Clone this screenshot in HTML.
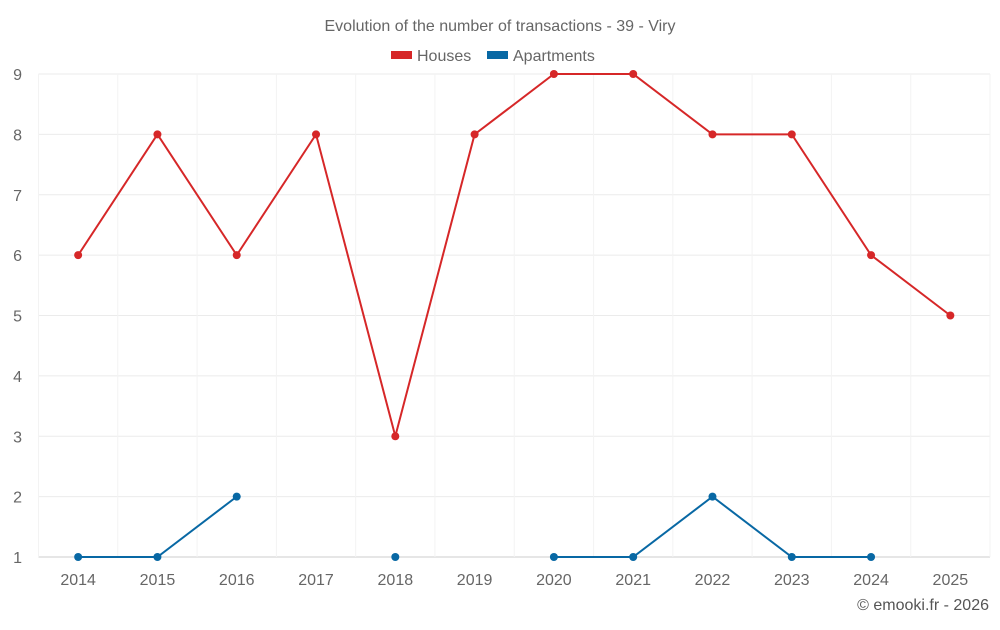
<!DOCTYPE html>
<html><head><meta charset="utf-8"><style>
body{margin:0;background:#fff;width:1000px;height:625px;overflow:hidden;font-family:"Liberation Sans",sans-serif}
svg text{font-family:"Liberation Sans",sans-serif}
</style></head><body>
<svg id="chart" width="1000" height="625" xmlns="http://www.w3.org/2000/svg">
<text x="500" y="31" text-anchor="middle" font-size="16" fill="#666">Evolution of the number of transactions - 39 - Viry</text>
<g>
<g><rect x="391" y="51" width="21" height="8" fill="#d62728"/><text x="417" y="61" font-size="16" fill="#666">Houses</text></g>
<g><rect x="487" y="51" width="21" height="8" fill="#0868a4"/><text x="513" y="61" font-size="16" fill="#666">Apartments</text></g>
</g>
<g id="grid"></g><g id="axes"></g><g id="series"></g>
<text x="989" y="610" text-anchor="end" font-size="16" fill="#555">© emooki.fr - 2026</text>
</svg>
<script>
const categories=["2014","2015","2016","2017","2018","2019","2020","2021","2022","2023","2024","2025"];
const houses=[6,8,6,8,3,8,9,9,8,8,6,5];
const apartments=[1,1,2,null,1,null,1,1,2,1,1,null];
const yTicks=[1,2,3,4,5,6,7,8,9];
const L=38.5,R=990,T=74,B=557,yMin=1,yMax=9;
const bw=(R-L)/categories.length;
const x=i=>L+bw*(i+0.5);
const y=v=>B-(v-yMin)/(yMax-yMin)*(B-T);
const NS="http://www.w3.org/2000/svg";
function mk(tag,attrs,parent){const e=document.createElementNS(NS,tag);for(const k in attrs)e.setAttribute(k,attrs[k]);parent.appendChild(e);return e;}
const grid=document.getElementById('grid'),axes=document.getElementById('axes'),series=document.getElementById('series');
yTicks.forEach(t=>{
 const l=mk('line',{x1:L,x2:R,y1:y(t),y2:y(t),stroke:t===yMin?'#ccc':'#ebebeb','stroke-width':1},grid);
 
 
 const tx=mk('text',{x:22,y:y(t)+6,'text-anchor':'end','font-size':16,fill:'#666'},axes);
 tx.textContent=t;
 
 
});
for(let i=0;i<=categories.length;i++){
 const l=mk('line',{x1:L+bw*i,x2:L+bw*i,y1:T,y2:B,stroke:'#f3f3f3','stroke-width':1},grid);
 
 
}
categories.forEach((c,i)=>{
 const tx=mk('text',{x:x(i),y:585,'text-anchor':'middle','font-size':16,fill:'#666'},axes);
 tx.textContent=c;
 
 
});
function draw(vals,color,name){
 let d='',pen=false;
 vals.forEach((v,i)=>{if(v===null){pen=false;return;}d+=(pen?'L':'M')+x(i)+' '+y(v)+' ';pen=true;});
 const p=mk('path',{d:d,fill:'none',stroke:color,'stroke-width':2},series);
 
 
 vals.forEach((v,i)=>{if(v===null)return;
  const c=mk('circle',{cx:x(i),cy:y(v),r:4,fill:color},series);
  
  
 });
}
draw(houses,'#d62728','houses');
draw(apartments,'#0868a4','apartments');
</script>
</body></html>
